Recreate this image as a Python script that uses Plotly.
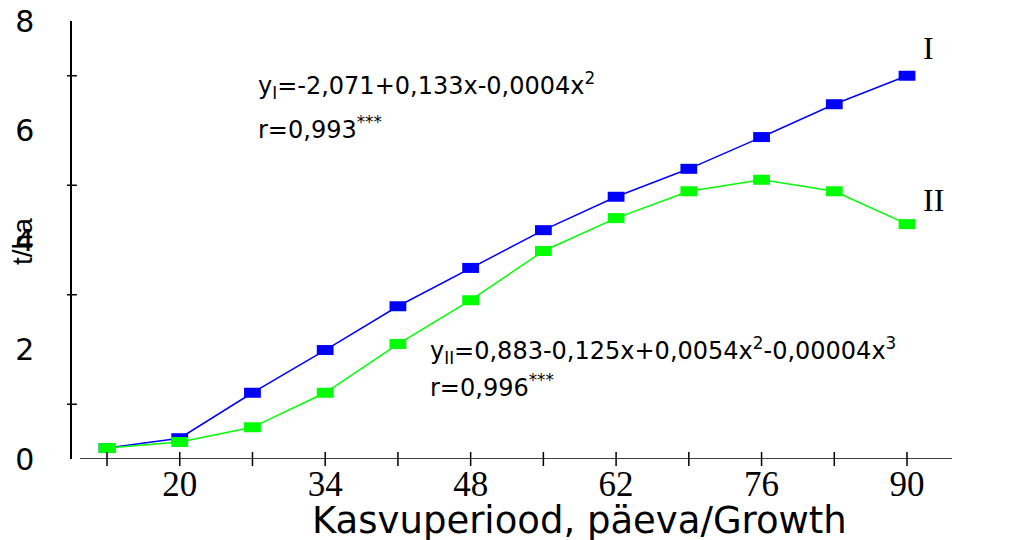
import plotly.graph_objects as go

# ---------------- data ----------------
days = [13, 20, 27, 34, 41, 48, 55, 62, 69, 76, 83, 90]
yield_I = [0.20, 0.38, 1.21, 1.99, 2.79, 3.49, 4.18, 4.79, 5.30, 5.88, 6.48, 7.00]
yield_II = [0.20, 0.31, 0.58, 1.21, 2.10, 2.90, 3.80, 4.40, 4.89, 5.10, 4.89, 4.29]
x_tick_text = ["", "20", "", "34", "", "48", "", "62", "", "76", "", "90"]
y_major = [0, 2, 4, 6, 8]
y_minor = [1, 3, 5, 7]
x_range = [9.63, 94.33]
y_range = [0, 8]

# ---------------- layout geometry (screen pixels) ----------------
W, H = 1029, 540
L, R, T, B = 72, 952, 21, 459
PW, PH = R - L, B - T


def px(xs):
    return (xs - L) / PW


def py(ys):
    return (B - ys) / PH


fig = go.Figure()

fig.add_trace(go.Scatter(
    x=days, y=yield_I, mode="lines+markers", name="I",
    line=dict(color="#0000FF", width=1.5),
    marker=dict(symbol="line-ew", size=12, color="#0000FF",
                line=dict(color="#0000FF", width=10)),
    cliponaxis=False, showlegend=False))

fig.add_trace(go.Scatter(
    x=days, y=yield_II, mode="lines+markers", name="II",
    line=dict(color="#00FF00", width=1.5),
    marker=dict(symbol="line-ew", size=12, color="#00FF00",
                line=dict(color="#00FF00", width=10)),
    cliponaxis=False, showlegend=False))

# crossing tick marks on x axis
fig.add_trace(go.Scatter(
    x=days, y=[y_range[0]] * len(days), mode="markers",
    marker=dict(symbol="line-ns", size=10, color="black",
                line=dict(color="black", width=1.5)),
    cliponaxis=False, showlegend=False, hoverinfo="skip"))

# crossing minor tick marks on y axis
fig.add_trace(go.Scatter(
    x=[x_range[0]] * len(y_minor), y=y_minor, mode="markers",
    marker=dict(symbol="line-ew", size=7, color="black",
                line=dict(color="black", width=1.5)),
    cliponaxis=False, showlegend=False, hoverinfo="skip"))

# x axis line
fig.add_shape(type="line", xref="x", yref="y",
              x0=10.4, x1=x_range[1], y0=0, y1=0,
              line=dict(color="black", width=1.5))

fig.update_xaxes(
    range=x_range, tickmode="array", tickvals=days, ticktext=x_tick_text,
    ticks="", showline=False, showgrid=False, zeroline=False,
    automargin=False, ticklabeloverflow="allow",
    tickfont=dict(family="Liberation Serif", size=35, color="black"),
    ticklabelstandoff=1)

fig.update_yaxes(
    range=y_range, tickmode="array", tickvals=y_major,
    ticktext=[str(v) for v in y_major],
    ticks="", showline=True, linecolor="black", linewidth=1.5,
    showgrid=False, zeroline=False, automargin=False,
    ticklabeloverflow="allow",
    tickfont=dict(family="DejaVu Sans", size=30, color="black"),
    ticklabelstandoff=30)

eq_font = dict(family="DejaVu Sans", size=24, color="black")
ann = [
    dict(text="y<sub>I</sub>=-2,071+0,133x-0,0004x<sup>2</sup>",
         x=px(256), y=py(85), xanchor="left", yanchor="middle", font=eq_font),
    dict(text="r=0,993<sup>***</sup>",
         x=px(256), y=py(128), xanchor="left", yanchor="middle", font=eq_font),
    dict(text="y<sub>II</sub>=0,883-0,125x+0,0054x<sup>2</sup>-0,00004x<sup>3</sup>",
         x=px(428), y=py(350), xanchor="left", yanchor="middle", font=eq_font),
    dict(text="r=0,996<sup>***</sup>",
         x=px(428), y=py(386), xanchor="left", yanchor="middle", font=eq_font),
    dict(text="I", x=px(928), y=py(48), xanchor="center", yanchor="middle",
         font=dict(family="Liberation Serif", size=32, color="black")),
    dict(text="II", x=px(933), y=py(200), xanchor="center", yanchor="middle",
         font=dict(family="Liberation Serif", size=32, color="black")),
    dict(text="t/ha", x=px(23), y=py(242), xanchor="center", yanchor="middle",
         textangle=-90,
         font=dict(family="Liberation Sans", size=28, color="black")),
    dict(text="Kasvuperiood, päeva/Growth", x=px(310), y=py(520),
         xanchor="left", yanchor="middle",
         font=dict(family="DejaVu Sans", size=37, color="black")),
]
for a in ann:
    a.update(xref="paper", yref="paper", showarrow=False)
fig.update_layout(annotations=ann)

fig.update_layout(
    template="none",
    width=W, height=H, autosize=False,
    margin=dict(l=L, r=W - R, t=T, b=H - B, pad=0, autoexpand=False),
    paper_bgcolor="white", plot_bgcolor="white",
    showlegend=False)

fig.write_html(
    "out.html",
    config={"displayModeBar": False},
    post_script="document.body.style.margin='0';"
                "document.body.style.overflow='hidden';")
